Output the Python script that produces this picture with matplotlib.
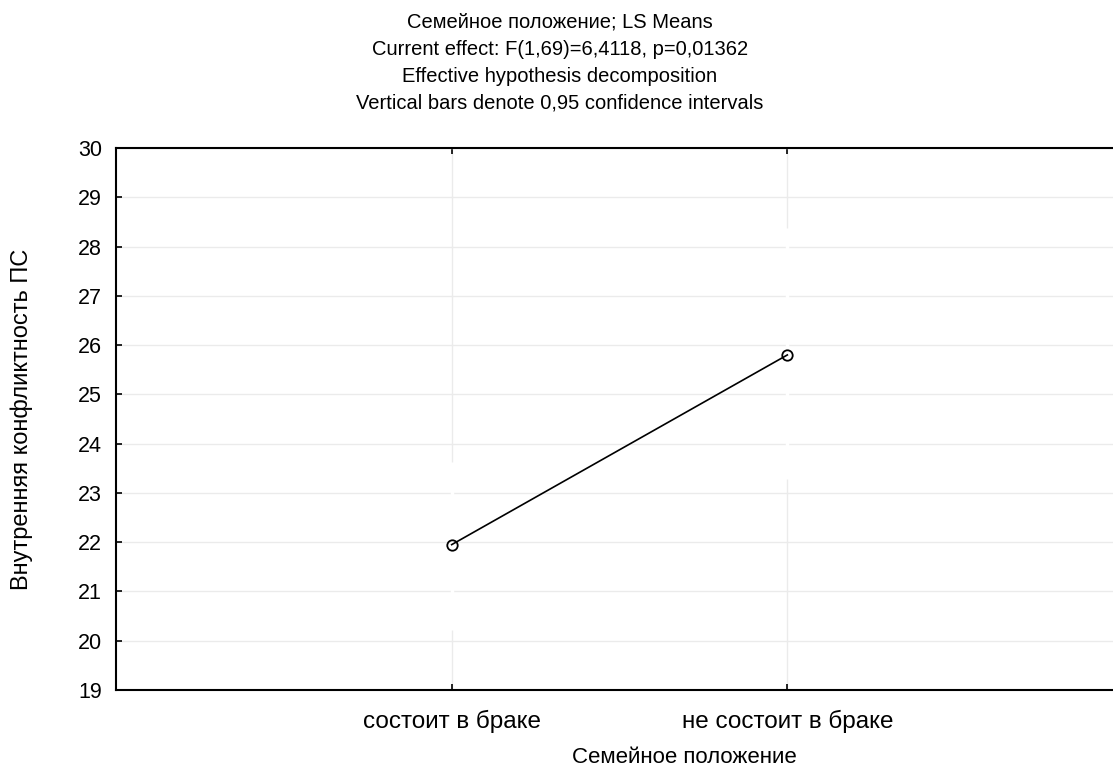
import numpy as np
import matplotlib
matplotlib.use("Agg")
import matplotlib.pyplot as plt

plt.rcParams['font.family'] = ['Liberation Sans', 'DejaVu Sans']

# LS means with 0,95 confidence limits
categories = ['состоит в браке', 'не состоит в браке']
means = [21.95, 25.8]
ci_low = [20.22, 23.28]
ci_high = [23.63, 28.38]

title_lines = [
    'Семейное положение; LS Means',
    'Current effect: F(1,69)=6,4118, p=0,01362',
    'Effective hypothesis decomposition',
    'Vertical bars denote 0,95 confidence intervals',
]

fig = plt.figure(figsize=(11.13, 7.69), dpi=100)
ax = fig.add_axes([116 / 1113, 79 / 769, 1007 / 1113, 542 / 769])

x = np.arange(len(categories))
m = np.array(means)
err = [m - np.array(ci_low), np.array(ci_high) - m]

# confidence bars are drawn white in the source (they only cut the grid)
ax.errorbar(x, m, yerr=err, fmt='none', ecolor='white', elinewidth=2.5,
            capsize=0, zorder=2)
ax.plot(x, m, color='black', lw=1.2, marker='o', markersize=7.5,
        markerfacecolor='none', markeredgecolor='black', markeredgewidth=1.3,
        zorder=3)

ax.set_xlim(-1, 2)
ax.set_ylim(19, 30)
ax.set_yticks(range(19, 31))
ax.set_xticks(x)
ax.set_xticklabels(categories)
ax.grid(True, color='#ebebeb', lw=1.0, zorder=0)
ax.set_axisbelow(True)

ax.tick_params(axis='both', direction='in', length=4, width=1.2,
               colors='black')
ax.tick_params(axis='y', right=False, labelsize=15.5, pad=10)
ax.tick_params(axis='x', top=True, labelsize=17.5, pad=14)

for s in ['left', 'top', 'bottom']:
    ax.spines[s].set_linewidth(1.5)
ax.spines['right'].set_visible(False)

ax.set_xlabel('Семейное положение', fontsize=16, va='top')
ax.xaxis.set_label_coords((684 - 116) / 1007, (690 - 747) / 542)
ax.set_ylabel('Внутренняя конфликтность ПС', fontsize=17)
ax.yaxis.set_label_coords((33 - 116) / 1007, 0.5)

fig.text(560 / 1113, 1 - 13 / 769, '\n'.join(title_lines), ha='center',
         va='top', fontsize=14.5, linespacing=1.52)

fig.savefig('out.png', dpi=100)
